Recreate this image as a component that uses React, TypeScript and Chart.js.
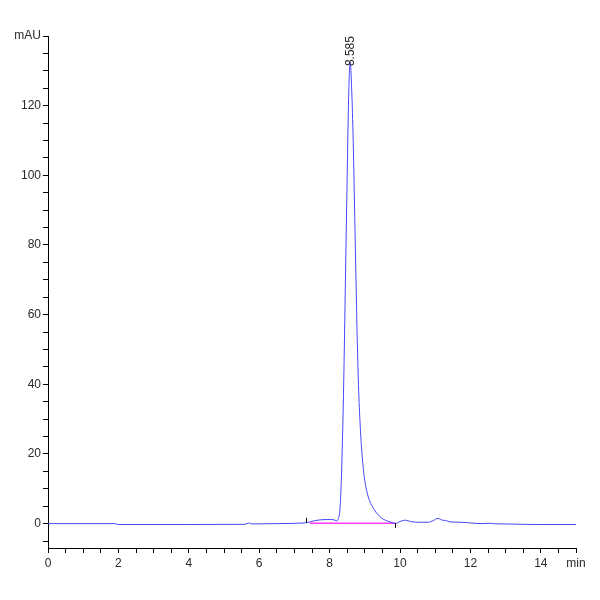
import React, { useEffect, useRef } from 'react';
import Chart from 'chart.js/auto';

// retention time (min) and signal (mAU)
const times = [
  0, 1.9, 2.0, 4.0, 5.6, 5.7, 5.8, 6.5, 7.3, 7.35, 7.45, 7.6, 7.75, 7.95, 8.12, 8.2,
  8.25, 8.3, 8.35, 8.4, 8.45, 8.5, 8.54, 8.585, 8.63, 8.67, 8.72, 8.75, 8.78, 8.82,
  8.87, 8.92, 8.96, 9.0, 9.05, 9.1, 9.17, 9.25, 9.33, 9.42, 9.52, 9.65, 9.78, 9.88,
  10.0, 10.15, 10.3, 10.5, 10.8, 10.95, 11.08, 11.2, 11.3, 11.42, 11.7, 12.0, 12.3,
  12.55, 12.7, 13.0, 13.9, 15.0,
];
const signal = [
  0, 0, -0.25, -0.25, -0.2, 0.2, -0.1, 0, 0.2, 0.3, 0.5, 0.9, 1.1, 1.2, 1.1, 0.8,
  1.5, 5, 18, 40, 70, 100, 122, 132.5, 124, 110, 85, 70, 55, 40,
  28, 20, 15.5, 12.3, 9.6, 7.6, 5.8, 4.3, 3.1, 2.1, 1.3, 0.7, 0.3, 0.05,
  0.6, 1.0, 0.6, 0.4, 0.4, 0.9, 1.5, 1.0, 0.9, 0.5, 0.4, 0.2, 0.0,
  0.1, -0.05, -0.1, -0.25, -0.25,
];

// integration baseline under the main peak
const baselineTimes = [7.44, 9.86];
const baselineValues = [0.1, 0.1];

// peak start / end event marks (1 = up, -1 = down)
const markTimes = [7.33, 9.86];
const markDirs = [1, -1];

const peakTime = 8.585;
const peakHeight = 132.5;
const peakLabel = '8.585';

const FONT = "'Liberation Sans Narrow', 'Liberation Sans', Arial, sans-serif";
const tickFont = { family: FONT, size: 12 };

const annotations = {
  id: 'annotations',
  afterDatasetsDraw(chart: any) {
    const { ctx, scales } = chart;
    const x = scales.x;
    const y = scales.y;
    ctx.save();
    ctx.strokeStyle = '#000';
    ctx.lineWidth = 1;
    markTimes.forEach((t, i) => {
      const px = Math.round(x.getPixelForValue(t)) + 0.5;
      const py = y.getPixelForValue(0.2);
      ctx.beginPath();
      ctx.moveTo(px, py);
      ctx.lineTo(px, py - markDirs[i] * 5);
      ctx.stroke();
    });
    ctx.fillStyle = '#2a2a2a';
    ctx.font = '12px ' + FONT;
    ctx.translate(x.getPixelForValue(peakTime), y.getPixelForValue(peakHeight) + 4);
    ctx.rotate(-Math.PI / 2);
    ctx.textAlign = 'left';
    ctx.textBaseline = 'middle';
    ctx.fillText(peakLabel, 0, 0);
    ctx.restore();
  },
};

const App: React.FC = () => {
  const canvasRef = useRef<HTMLCanvasElement>(null);

  useEffect(() => {
    const ctx = canvasRef.current?.getContext('2d');
    if (!ctx) return;

    const chart = new Chart(ctx, {
      type: 'line',
      data: {
        datasets: [
          {
            data: times.map((t, i) => ({ x: t, y: signal[i] })),
            borderColor: '#4646ff',
            borderWidth: 1,
            pointRadius: 0,
            cubicInterpolationMode: 'monotone',
            fill: false,
          },
          {
            data: baselineTimes.map((t, i) => ({ x: t, y: baselineValues[i] })),
            borderColor: '#ff3cff',
            borderWidth: 1.6,
            pointRadius: 0,
            fill: false,
          },
        ],
      },
      options: {
        responsive: true,
        maintainAspectRatio: false,
        animation: false,
        layout: { padding: { top: 36, right: 24, left: 0, bottom: 0 } },
        plugins: {
          legend: { display: false },
          tooltip: { enabled: false },
        },
        scales: {
          x: {
            type: 'linear',
            min: 0,
            max: 15,
            afterFit: (scale: any) => {
              scale.height = 52;
            },
            border: { display: true, color: '#000', width: 1 },
            grid: { drawOnChartArea: false, tickLength: 5, tickColor: '#000' },
            ticks: {
              stepSize: 0.5,
              autoSkip: false,
              maxRotation: 0,
              includeBounds: false,
              padding: 3,
              color: '#2a2a2a',
              font: tickFont,
              callback: (v: any) => {
                const n = Number(v);
                if (n === 15) return 'min';
                return n % 2 === 0 ? String(n) : '';
              },
            },
          },
          y: {
            type: 'linear',
            min: -7,
            max: 140,
            afterFit: (scale: any) => {
              scale.width = 48;
            },
            border: { display: true, color: '#000', width: 1 },
            grid: { drawOnChartArea: false, tickLength: 5, tickColor: '#000' },
            ticks: {
              stepSize: 5,
              autoSkip: false,
              includeBounds: false,
              padding: 2,
              color: '#2a2a2a',
              font: tickFont,
              callback: (v: any) => {
                const n = Number(v);
                if (n === 140) return 'mAU';
                return n % 20 === 0 ? String(n) : '';
              },
            },
          },
        },
      },
      plugins: [annotations],
    });

    return () => {
      chart.destroy();
    };
  }, []);

  return (
    <div style={{ position: 'absolute', left: 0, top: 0, width: 600, height: 600, background: '#fff' }}>
      <canvas ref={canvasRef} />
    </div>
  );
};

export default App;
